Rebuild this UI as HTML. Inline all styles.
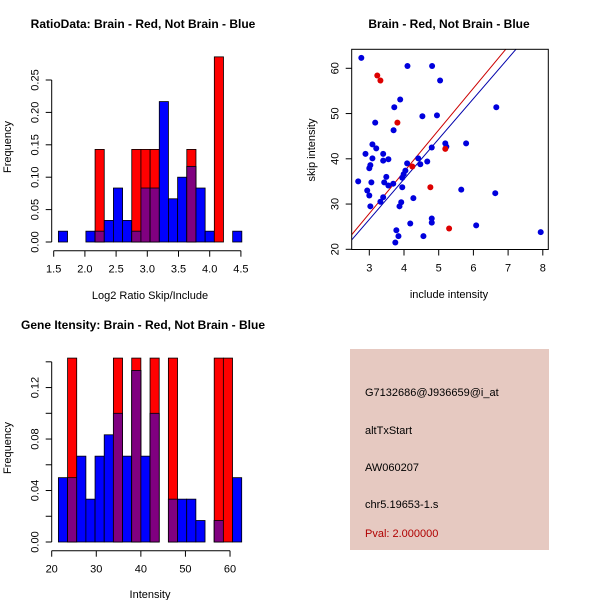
<!DOCTYPE html>
<html><head><meta charset="utf-8">
<style>
body{margin:0;background:#fff;}
svg{display:block;font-family:"Liberation Sans",sans-serif;}
</style></head>
<body>
<svg id="c" width="600" height="600" xmlns="http://www.w3.org/2000/svg">
<rect width="600" height="600" fill="#fff"/>
<g id="p1"></g>
<g id="p2"></g>
<g id="p3"></g>
<g>
<rect x="350" y="349" width="199" height="201" fill="#e6c9c1"/>
<text x="365" y="396" font-size="11">G7132686@J936659@i_at</text>
<text x="365" y="434" font-size="11">altTxStart</text>
<text x="365" y="471" font-size="11">AW060207</text>
<text x="365" y="508" font-size="11">chr5.19653-1.s</text>
<text x="365" y="537" font-size="11" fill="#b00000">Pval: 2.000000</text>
</g>
</svg>
<script>
// ---- Ratio histogram data ----
const ratioBinStart = 1.575;
const ratioBinWidth = 0.147;
const ratioBlue = [0.0167,0,0,0.0167,0.0167,0.0333,0.0833,0.0333,0.0167,0.0833,0.0833,0.2167,0.0667,0.1,0.1167,0.0833,0.0167,0,0,0.0167];
const ratioRed  = [0,0,0,0,0.1429,0,0,0,0.1429,0.1429,0.1429,0,0,0,0.1429,0,0,0.2857,0,0];
const ratioXTicks = ["1.5","2.0","2.5","3.0","3.5","4.0","4.5"];
const ratioYTicks = ["0.00","0.05","0.10","0.15","0.20","0.25"];
// ---- Intensity histogram data ----
const intBinStart = 21.5;
const intBinWidth = 2.056;
const intBlue = [0.05,0.05,0.0667,0.0333,0.0667,0.0833,0.1,0.0667,0.1333,0.0667,0.1,0,0.0333,0.0333,0.0333,0.0167,0,0.0167,0,0.05];
const intRed  = [0,0.1429,0,0,0,0,0.1429,0,0.1429,0,0.1429,0,0.1429,0,0,0,0,0.1429,0.1429,0];
const intXTicks = ["20","30","40","50","60"];
const intYTicks = ["0.00","0.04","0.08","0.12"];
// ---- Scatter data ----
const blueX = [2.77,4.10,4.81,5.04,3.89,3.72,3.17,3.70,4.53,4.95,6.66,2.89,3.09,3.20,3.09,3.40,3.40,3.55,4.80,5.19,5.22,5.79,4.09,4.41,4.47,4.67,3.03,3.00,2.68,3.06,3.49,3.43,3.55,3.69,4.04,3.99,3.95,3.95,2.94,3.00,3.40,3.32,3.03,3.92,3.87,4.27,5.65,6.63,4.18,4.80,4.80,6.08,3.78,3.84,3.75,4.56,7.94];
const blueY = [62.3,60.5,60.5,57.3,53.1,51.4,48.0,46.3,49.4,49.6,51.4,41.1,43.2,42.3,40.1,41.1,39.6,39.9,42.5,43.4,42.7,43.4,39.0,40.1,38.8,39.4,38.6,37.9,35.0,34.8,36.0,34.8,34.1,34.5,37.4,36.6,35.8,33.7,33.0,31.9,31.5,30.5,29.5,30.4,29.5,31.3,33.2,32.4,25.7,26.8,25.9,25.3,24.2,22.9,21.5,22.9,23.8];
const redX = [3.23,3.32,3.81,4.24,4.76,5.19,5.30];
const redY = [58.4,57.3,48.0,38.3,33.7,42.2,24.6];
const redLine = [0.22, 9.23];   // intercept, slope
const blueLine = [-0.11, 8.9];
const scatXTicks = ["3","4","5","6","7","8"];
const scatYTicks = ["20","30","40","50","60"];

const NS="http://www.w3.org/2000/svg";
function mk(parent,tag,attrs){const e=document.createElementNS(NS,tag);for(const k in attrs)e.setAttribute(k,attrs[k]);parent.appendChild(e);return e;}

function hist(g,o){
  const sx=v=>o.x0px+(v-o.xmin)*o.xs, sy=v=>o.y0px-v*o.ys;
  for(let i=0;i<o.blue.length;i++){
    const a=o.start+i*o.w, b=a+o.w;
    const bl=o.blue[i], rd=o.red[i];
    if(bl>0){const r=mk(g,'rect',{x:sx(a),y:sy(bl),width:sx(b)-sx(a),height:sy(0)-sy(bl),fill:'#0000ff',stroke:'#000','stroke-width':0.8});
      
      }
    if(rd>0){const r=mk(g,'rect',{x:sx(a),y:sy(rd),width:sx(b)-sx(a),height:sy(0)-sy(rd),fill:'#ff0000',stroke:'#000','stroke-width':0.8});
      
      }
    const m=Math.min(bl,rd);
    if(m>0){const r=mk(g,'rect',{x:sx(a),y:sy(m),width:sx(b)-sx(a),height:sy(0)-sy(m),fill:'#800080',stroke:'#000','stroke-width':0.8});
      
      }
  }
  // x axis
  const xv=o.xt.map(Number);
  mk(g,'line',{x1:sx(xv[0]),x2:sx(xv[xv.length-1]),y1:o.axY,y2:o.axY,stroke:'#000'});
  o.xt.forEach((t,i)=>{mk(g,'line',{x1:sx(xv[i]),x2:sx(xv[i]),y1:o.axY,y2:o.axY+6,stroke:'#000'});
    const tx=mk(g,'text',{x:sx(xv[i]),y:o.axY+22,'font-size':11,'text-anchor':'middle'});tx.textContent=t;
    
    });
  const yv=o.yt.map(Number);
  const ytop=o.ytop!==undefined?o.ytop:yv[yv.length-1];
  mk(g,'line',{x1:o.axX,x2:o.axX,y1:sy(0),y2:sy(ytop),stroke:'#000'});
  const yticks=o.ytickVals||yv;
  yticks.forEach(v=>mk(g,'line',{x1:o.axX,x2:o.axX-6,y1:sy(v),y2:sy(v),stroke:'#000'}));
  o.yt.forEach((t,i)=>{const y=sy(yv[i]);const tx=mk(g,'text',{x:0,y:0,'font-size':11,'text-anchor':'middle',transform:`translate(${o.axX-13},${y}) rotate(-90)`});tx.textContent=t;
    
    });
}

const p1=document.getElementById('p1');
hist(p1,{blue:ratioBlue,red:ratioRed,start:ratioBinStart,w:ratioBinWidth,xmin:1.5,x0px:53.7,xs:62.4,y0px:242,ys:648,xt:ratioXTicks,yt:ratioYTicks,axY:250.7,axX:51.7});
let t=mk(p1,'text',{x:143,y:28,'font-size':12,'font-weight':'bold','text-anchor':'middle'});t.textContent='RatioData: Brain - Red, Not Brain - Blue';

t=mk(p1,'text',{x:150,y:299,'font-size':11,'text-anchor':'middle'});t.textContent='Log2 Ratio Skip/Include';

t=mk(p1,'text',{x:0,y:0,'font-size':11,'text-anchor':'middle',transform:'translate(11,147) rotate(-90)'});t.textContent='Frequency';


const p3=document.getElementById('p3');
hist(p3,{blue:intBlue,red:intRed,start:intBinStart,w:intBinWidth,xmin:20,x0px:51.7,xs:4.458,y0px:542,ys:1287,xt:intXTicks,yt:intYTicks,axY:550.7,axX:51.7,ytop:0.14,ytickVals:[0,0.02,0.04,0.06,0.08,0.10,0.12,0.14]});
t=mk(p3,'text',{x:143,y:329,'font-size':12,'font-weight':'bold','text-anchor':'middle'});t.textContent='Gene Itensity: Brain - Red, Not Brain - Blue';

t=mk(p3,'text',{x:150,y:598,'font-size':11,'text-anchor':'middle'});t.textContent='Intensity';

t=mk(p3,'text',{x:0,y:0,'font-size':11,'text-anchor':'middle',transform:'translate(11,448) rotate(-90)'});t.textContent='Frequency';


// scatter
const p2=document.getElementById('p2');
const L=351.7,R=548.3,T=49.3,B=249.5;
const sx=v=>369.3+(v-3)*34.7, sy=v=>249.3-(v-20)*4.525;
const defs=mk(p2,'defs',{});const cp=mk(defs,'clipPath',{id:'clip'});mk(cp,'rect',{x:L,y:T,width:R-L,height:B-T});
const lg=mk(p2,'g',{'clip-path':'url(#clip)'});
[[redLine,'#cc0000','red-fit-line'],[blueLine,'#0000aa','blue-fit-line']].forEach(([ln,c,n])=>{
  const x1=2.4,x2=8.3;const l=mk(lg,'line',{x1:sx(x1),y1:sy(ln[0]+ln[1]*x1),x2:sx(x2),y2:sy(ln[0]+ln[1]*x2),stroke:c,'stroke-width':1});
  });
blueX.forEach((x,i)=>{const c=mk(p2,'circle',{cx:sx(x),cy:sy(blueY[i]),r:3,fill:'#0000dd'});
  });
redX.forEach((x,i)=>{const c=mk(p2,'circle',{cx:sx(x),cy:sy(redY[i]),r:3,fill:'#dd0000'});
  });
mk(p2,'rect',{x:L,y:T,width:R-L,height:B-T,fill:'none',stroke:'#000'});
scatXTicks.forEach(s=>{const v=+s;mk(p2,'line',{x1:sx(v),x2:sx(v),y1:B,y2:B+6,stroke:'#000'});
  const tx=mk(p2,'text',{x:sx(v),y:B+22,'font-size':11,'text-anchor':'middle'});tx.textContent=s;
  });
scatYTicks.forEach(s=>{const v=+s;mk(p2,'line',{x1:L,x2:L-6,y1:sy(v),y2:sy(v),stroke:'#000'});
  const tx=mk(p2,'text',{x:0,y:0,'font-size':11,'text-anchor':'middle',transform:`translate(${L-13},${sy(v)}) rotate(-90)`});tx.textContent=s;
  });
t=mk(p2,'text',{x:449,y:28,'font-size':12,'font-weight':'bold','text-anchor':'middle'});t.textContent='Brain - Red, Not Brain - Blue';

t=mk(p2,'text',{x:449,y:298,'font-size':11,'text-anchor':'middle'});t.textContent='include intensity';

t=mk(p2,'text',{x:0,y:0,'font-size':11,'text-anchor':'middle',transform:'translate(315,150) rotate(-90)'});t.textContent='skip intensity';

</script>
</body></html>
